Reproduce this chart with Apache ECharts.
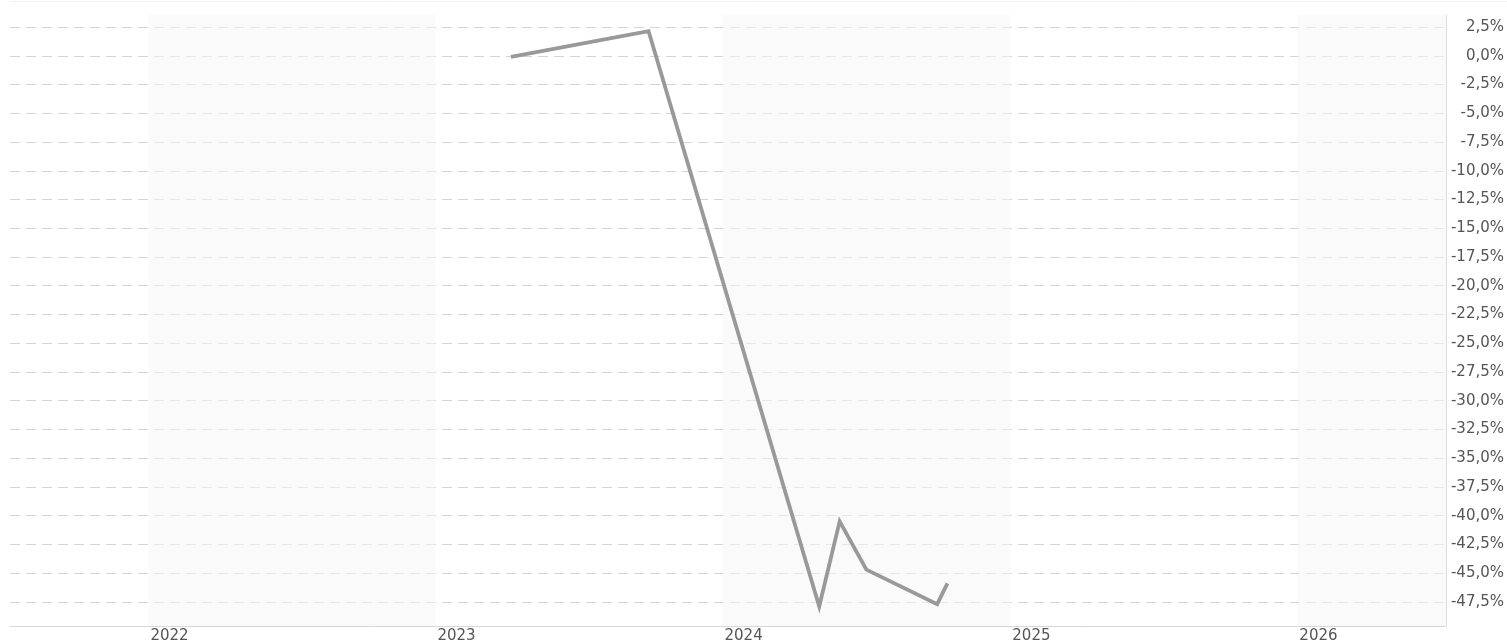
<!DOCTYPE html>
<html>
<head>
<meta charset="utf-8">
<script src="https://cdn.jsdelivr.net/npm/echarts@6/dist/echarts.min.js"></script>
<style>html,body{margin:0;padding:0;background:#fff}#c{width:1507px;height:644px}</style>
</head>
<body>
<div id="c"></div>
<script>
const dates = ['2023-04-07','2023-09-29','2024-05-03','2024-05-29','2024-07-02','2024-09-30','2024-10-13'];
const values = [-0.1, 2.15, -47.9, -40.5, -44.7, -47.7, -45.9];
const yearTicks = ['2022-01-01','2023-01-01','2024-01-01','2025-01-01','2026-01-01'];
const shadedYears = [['2022-01-01','2023-01-01'],['2024-01-01','2025-01-01'],['2026-01-01','2026-07-09']];
const yTicks = [2.5,0,-2.5,-5,-7.5,-10,-12.5,-15,-17.5,-20,-22.5,-25,-27.5,-30,-32.5,-35,-37.5,-40,-42.5,-45,-47.5];
const xMin = '2021-07-09', xMax = '2026-07-09';
const yMin = -49.6, yMax = 3.55;

const ts = s => new Date(s + 'T00:00:00Z').getTime();
const chart = echarts.init(document.getElementById('c'), null, {renderer:'canvas'});
const font = 'DejaVu Sans, Verdana, sans-serif';
chart.setOption({
  animation: false,
  backgroundColor: '#fff',
  grid: {left: 10, right: 60, top: 15, bottom: 17, containLabel: false},
  graphic: [{type:'line', shape:{x1:10,y1:1.5,x2:1507,y2:1.5}, style:{stroke:'#f0f0f0', lineWidth:1}}],
  xAxis: {
    type: 'value',
    min: ts(xMin), max: ts(xMax),
    axisLine: {show: true, onZero: false, lineStyle: {color: '#d8d8d8', width: 1}},
    axisTick: {show: false, customValues: yearTicks.map(ts)},
    axisLabel: {
      customValues: yearTicks.map(ts),
      formatter: v => String(new Date(v).getUTCFullYear()),
      align: 'left', margin: 3, padding: [0, 0, 0, 2], color: '#555', fontFamily: font, fontSize: 15
    },
    splitLine: {show: false}
  },
  yAxis: {
    type: 'value', position: 'right',
    min: yMin, max: yMax,
    axisLine: {show: true, lineStyle: {color: '#dddddd', width: 1}},
    axisTick: {show: false, customValues: yTicks},
    axisLabel: {
      customValues: yTicks,
      formatter: v => (Math.abs(v) < 1e-9 ? 0 : v).toFixed(1).replace('.', ',') + '%',
      align: 'right', margin: 58, color: '#555', fontFamily: font, fontSize: 15
    },
    splitLine: {show: true, lineStyle: {color: '#d4d4d4', type: [10, 6], width: 1}}
  },
  series: [{
    type: 'line',
    data: dates.map((d, i) => [ts(d), values[i]]),
    symbol: 'none',
    lineStyle: {color: '#999999', width: 3.8, join: 'miter'},
    itemStyle: {color: '#999999'},
    z: 3,
    markArea: {
      silent: true,
      itemStyle: {color: '#f5f5f5', opacity: 0.55},
      data: shadedYears.map(p => [{xAxis: ts(p[0])}, {xAxis: ts(p[1])}])
    }
  }]
});
</script>
</body>
</html>
